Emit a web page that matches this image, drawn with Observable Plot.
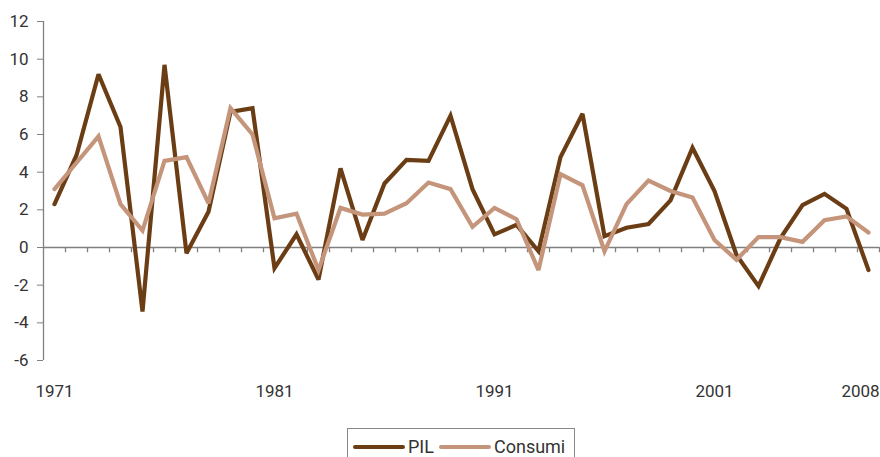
<!DOCTYPE html>
<html>
<head>
<meta charset="utf-8">
<script src="https://cdn.jsdelivr.net/npm/d3@7"></script>
<script src="https://cdn.jsdelivr.net/npm/@observablehq/plot@0.6"></script>
<style>
  html, body { margin: 0; padding: 0; background: #fff; overflow: hidden; }
  body { width: 880px; height: 457px; font-family: Roboto, "Liberation Sans", sans-serif; }
  #chart svg text { fill: #333; }
  .legend { position: absolute; left: 347px; top: 428px; width: 226px; height: 40px; border: 1px solid #888; box-sizing: content-box;
            font-size: 18px; color: #333; display: flex; align-items: flex-start; padding-top: 7px; }
  .legend .item { display: flex; align-items: center; }
  .legend .sw { display: inline-block; width: 52px; height: 4px; border-radius: 2px; margin: 0 3px 0 5px; }
</style>
</head>
<body>
<div id="chart"></div>
<div class="legend" id="legend"></div>
<script>
const years = [1971, 1972, 1973, 1974, 1975, 1976, 1977, 1978, 1979, 1980,
               1981, 1982, 1983, 1984, 1985, 1986, 1987, 1988, 1989, 1990,
               1991, 1992, 1993, 1994, 1995, 1996, 1997, 1998, 1999, 2000,
               2001, 2002, 2003, 2004, 2005, 2006, 2007, 2008];
const pil = [2.3, 4.9, 9.2, 6.4, -3.4, 9.7, -0.3, 1.9, 7.2, 7.4,
             -1.1, 0.7, -1.7, 4.2, 0.4, 3.4, 4.65, 4.6, 7.0, 3.1,
             0.7, 1.2, -0.2, 4.8, 7.1, 0.6, 1.05, 1.25, 2.5, 5.3,
             3.0, -0.4, -2.05, 0.5, 2.25, 2.85, 2.05, -1.2];
const consumi = [3.1, 4.5, 5.9, 2.3, 0.9, 4.6, 4.8, 2.35, 7.4, 6.0,
                 1.55, 1.8, -1.2, 2.1, 1.75, 1.8, 2.35, 3.45, 3.1, 1.1,
                 2.1, 1.5, -1.2, 3.9, 3.3, -0.2, 2.3, 3.55, 3.0, 2.65,
                 0.4, -0.65, 0.55, 0.55, 0.3, 1.45, 1.65, 0.8];
const seriesNames = ["PIL", "Consumi"];
const seriesColors = ["#6b3d14", "#c4957a"];
const yTicks = [-6, -4, -2, 0, 2, 4, 6, 8, 10, 12];
const xLabelYears = [1971, 1981, 1991, 2001];
const xLastLabel = [2008];

const rows = years.map((y, i) => ({year: y, pil: pil[i], consumi: consumi[i]}));
const bounds = years.map(y => y + 0.5);
const axisGray = "#808080";
const fontStack = "Roboto, \"Liberation Sans\", sans-serif";

const chart = Plot.plot({
  width: 880,
  height: 410,
  marginLeft: 43,
  marginRight: 1,
  marginTop: 21,
  marginBottom: 50,
  style: {fontFamily: fontStack, fontSize: "17px", color: axisGray, background: "white"},
  x: {type: "linear", domain: [years[0] - 0.5, years[years.length - 1] + 0.5], axis: null},
  y: {domain: [-6, 12], ticks: yTicks, tickFormat: d => String(d), tickSize: 6, tickPadding: 9, label: null},
  marks: [
    Plot.ruleY([0], {stroke: axisGray, strokeWidth: 1.3}),
    Plot.ruleX([years[0] - 0.5], {stroke: axisGray, strokeWidth: 1.3}),
    Plot.ruleX(bounds, {y1: 0, y2: -0.28, stroke: axisGray, strokeWidth: 1.3}),
    Plot.line(rows, {x: "year", y: "pil", stroke: seriesColors[0], strokeWidth: 4.2, strokeLinejoin: "miter", strokeMiterlimit: 3}),
    Plot.line(rows, {x: "year", y: "consumi", stroke: seriesColors[1], strokeWidth: 4.2, strokeLinejoin: "miter", strokeMiterlimit: 3}),
    Plot.text(xLabelYears, {x: d => d, y: -6, text: d => String(d), dy: 31, fill: "#333", fontSize: 17}),
    Plot.text(xLastLabel, {x: d => d, y: -6, text: d => String(d), dy: 31, dx: -8, fill: "#333", fontSize: 17})
  ]
});
document.getElementById("chart").appendChild(chart);

const legend = document.getElementById("legend");
seriesNames.forEach((name, i) => {
  const item = document.createElement("span");
  item.className = "item";
  const sw = document.createElement("span");
  sw.className = "sw";
  sw.style.background = seriesColors[i];
  item.appendChild(sw);
  item.appendChild(document.createTextNode(name));
  legend.appendChild(item);
});
</script>
</body>
</html>
